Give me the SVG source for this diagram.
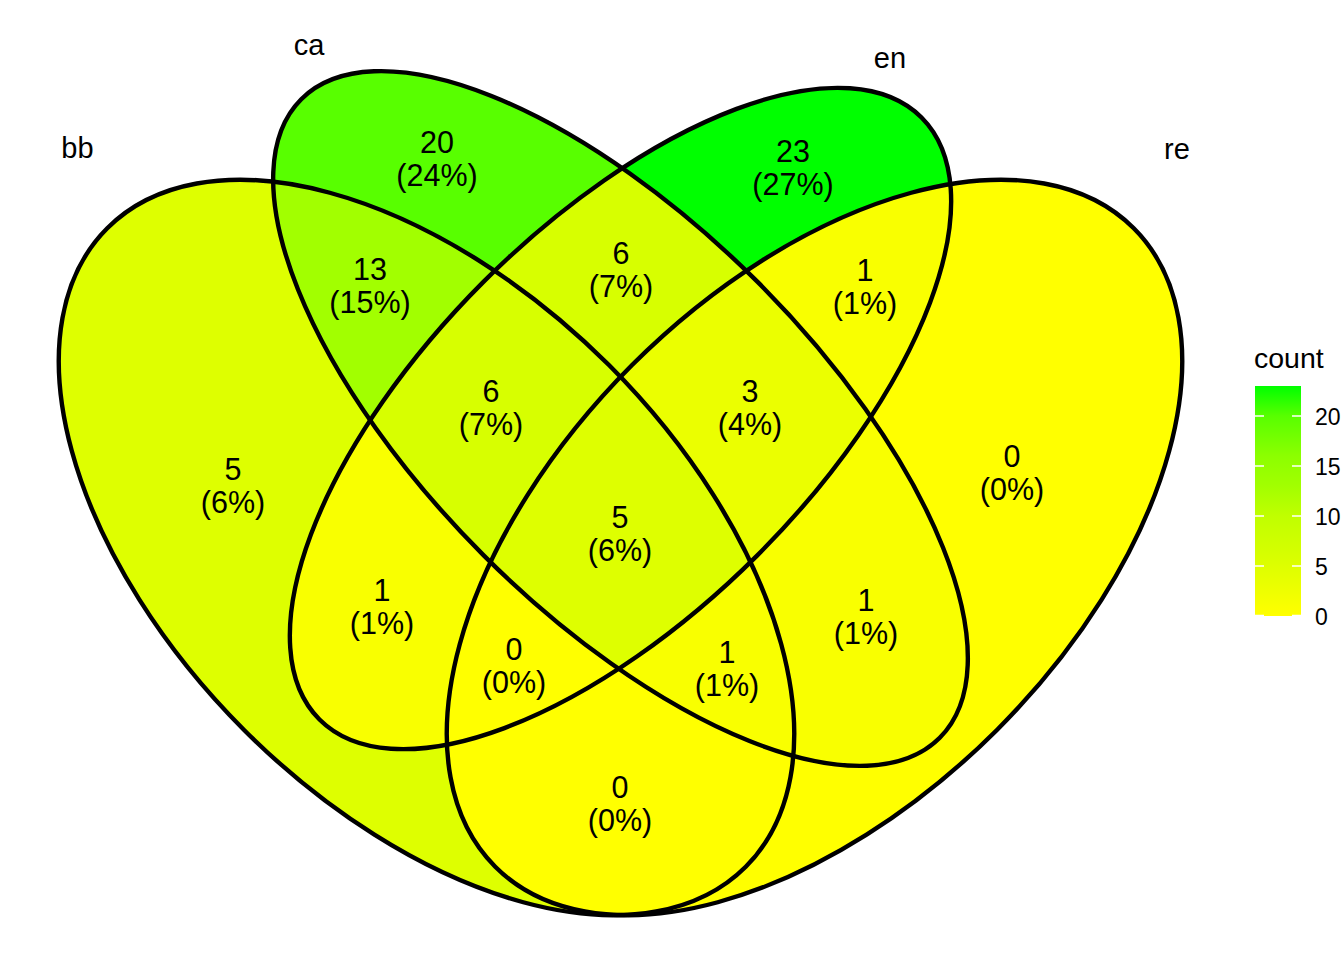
<svg xmlns="http://www.w3.org/2000/svg" xmlns:xlink="http://www.w3.org/1999/xlink" width="1344" height="960" viewBox="0 0 1344 960">
<style>
.lbl{font-family:"Liberation Sans",Arial,sans-serif;font-size:30.5px;fill:#000;text-anchor:middle}
.set{font-family:"Liberation Sans",Arial,sans-serif;font-size:29px;fill:#000;text-anchor:middle}
.leg{font-family:"Liberation Sans",Arial,sans-serif;font-size:23px;fill:#000}
.legt{font-family:"Liberation Sans",Arial,sans-serif;font-size:28.5px;fill:#000}
.edge{fill:none;stroke:#000;stroke-width:4.4}
.tick{stroke:#fff;stroke-width:1.5}
</style>
<defs>
<ellipse id="e-bb" cx="426.5" cy="547.5" rx="451.5" ry="258" transform="rotate(45 426.5 547.5)"/>
<ellipse id="e-ca" cx="620.5" cy="418.5" rx="451.5" ry="193.5" transform="rotate(45 620.5 418.5)"/>
<ellipse id="e-en" cx="620.5" cy="418.5" rx="425.7" ry="193.5" transform="rotate(-45 620.5 418.5)"/>
<ellipse id="e-re" cx="814.5" cy="547.5" rx="451.5" ry="258" transform="rotate(-45 814.5 547.5)"/>
<clipPath id="c-bb"><ellipse cx="426.5" cy="547.5" rx="451.5" ry="258" transform="rotate(45 426.5 547.5)"/></clipPath>
<clipPath id="c-ca"><ellipse cx="620.5" cy="418.5" rx="451.5" ry="193.5" transform="rotate(45 620.5 418.5)"/></clipPath>
<clipPath id="c-en"><ellipse cx="620.5" cy="418.5" rx="425.7" ry="193.5" transform="rotate(-45 620.5 418.5)"/></clipPath>
<clipPath id="c-re"><ellipse cx="814.5" cy="547.5" rx="451.5" ry="258" transform="rotate(-45 814.5 547.5)"/></clipPath>
<linearGradient id="grad" gradientUnits="userSpaceOnUse" x1="0" y1="616" x2="0" y2="386">
<stop offset="0" stop-color="#FFFF00"/>
<stop offset="0.0435" stop-color="#F9FF00"/>
<stop offset="0.1304" stop-color="#EBFF00"/>
<stop offset="0.2174" stop-color="#DEFF00"/>
<stop offset="0.2609" stop-color="#D7FF00"/>
<stop offset="0.4348" stop-color="#C0FF00"/>
<stop offset="0.5652" stop-color="#A2FF00"/>
<stop offset="0.6957" stop-color="#8CFF00"/>
<stop offset="0.8696" stop-color="#58FF00"/>
<stop offset="1" stop-color="#00FF00"/>
</linearGradient>
</defs>
<rect width="1344" height="960" fill="#fff"/>
<g id="fills">
<use href="#e-bb" fill="#DEFF00"/>
<use href="#e-ca" fill="#58FF00"/>
<use href="#e-en" fill="#00FF00"/>
<use href="#e-re" fill="#FFFF00"/>
<g clip-path="url(#c-bb)"><use href="#e-ca" fill="#A2FF00"/></g>
<g clip-path="url(#c-bb)"><use href="#e-en" fill="#F9FF00"/></g>
<g clip-path="url(#c-bb)"><use href="#e-re" fill="#FFFF00"/></g>
<g clip-path="url(#c-ca)"><use href="#e-en" fill="#D7FF00"/></g>
<g clip-path="url(#c-ca)"><use href="#e-re" fill="#F9FF00"/></g>
<g clip-path="url(#c-en)"><use href="#e-re" fill="#F9FF00"/></g>
<g clip-path="url(#c-bb)"><g clip-path="url(#c-ca)"><use href="#e-en" fill="#D7FF00"/></g></g>
<g clip-path="url(#c-bb)"><g clip-path="url(#c-ca)"><use href="#e-re" fill="#F9FF00"/></g></g>
<g clip-path="url(#c-bb)"><g clip-path="url(#c-en)"><use href="#e-re" fill="#FFFF00"/></g></g>
<g clip-path="url(#c-ca)"><g clip-path="url(#c-en)"><use href="#e-re" fill="#EBFF00"/></g></g>
<g clip-path="url(#c-bb)"><g clip-path="url(#c-ca)"><g clip-path="url(#c-en)"><use href="#e-re" fill="#DEFF00"/></g></g></g>
</g>
<g id="connectors">
<use href="#e-bb" class="edge"/>
<use href="#e-ca" class="edge"/>
<use href="#e-en" class="edge"/>
<use href="#e-re" class="edge"/>
</g>
<g id="set-bb"><text class="set" x="77.5" y="158">bb</text></g>
<g id="set-ca"><text class="set" x="309" y="55">ca</text></g>
<g id="set-en"><text class="set" x="890" y="68">en</text></g>
<g id="set-re"><text class="set" x="1177" y="159">re</text></g>
<g id="region-labels">
<g id="r-ca"><text class="lbl" x="437" y="153">20<tspan x="437" dy="33">(24%)</tspan></text></g>
<g id="r-en"><text class="lbl" x="793" y="161.5">23<tspan x="793" dy="33">(27%)</tspan></text></g>
<g id="r-bb-ca"><text class="lbl" x="370" y="279.5">13<tspan x="370" dy="33">(15%)</tspan></text></g>
<g id="r-ca-en"><text class="lbl" x="621" y="263.5">6<tspan x="621" dy="33">(7%)</tspan></text></g>
<g id="r-en-re"><text class="lbl" x="865" y="280.5">1<tspan x="865" dy="33">(1%)</tspan></text></g>
<g id="r-bb-ca-en"><text class="lbl" x="491" y="401.5">6<tspan x="491" dy="33">(7%)</tspan></text></g>
<g id="r-ca-en-re"><text class="lbl" x="750" y="401.5">3<tspan x="750" dy="33">(4%)</tspan></text></g>
<g id="r-bb"><text class="lbl" x="233" y="479.5">5<tspan x="233" dy="33">(6%)</tspan></text></g>
<g id="r-re"><text class="lbl" x="1012" y="466.5">0<tspan x="1012" dy="33">(0%)</tspan></text></g>
<g id="r-all"><text class="lbl" x="620" y="527.5">5<tspan x="620" dy="33">(6%)</tspan></text></g>
<g id="r-bb-en"><text class="lbl" x="382" y="600.5">1<tspan x="382" dy="33">(1%)</tspan></text></g>
<g id="r-ca-re"><text class="lbl" x="866" y="610.5">1<tspan x="866" dy="33">(1%)</tspan></text></g>
<g id="r-bb-en-re"><text class="lbl" x="514" y="659.5">0<tspan x="514" dy="33">(0%)</tspan></text></g>
<g id="r-bb-ca-re"><text class="lbl" x="727" y="662.5">1<tspan x="727" dy="33">(1%)</tspan></text></g>
<g id="r-bb-re"><text class="lbl" x="620" y="797.5">0<tspan x="620" dy="33">(0%)</tspan></text></g>
</g>
<g id="legend">
<text class="legt" x="1254" y="368">count</text>
<rect x="1255" y="386" width="46" height="230" fill="url(#grad)"/>
<g class="tick">
<line x1="1255" y1="416" x2="1264" y2="416"/><line x1="1292" y1="416" x2="1301" y2="416"/>
<line x1="1255" y1="466" x2="1264" y2="466"/><line x1="1292" y1="466" x2="1301" y2="466"/>
<line x1="1255" y1="516" x2="1264" y2="516"/><line x1="1292" y1="516" x2="1301" y2="516"/>
<line x1="1255" y1="566" x2="1264" y2="566"/><line x1="1292" y1="566" x2="1301" y2="566"/>
<line x1="1255" y1="615.5" x2="1264" y2="615.5"/><line x1="1292" y1="615.5" x2="1301" y2="615.5"/>
</g>
<text class="leg" x="1315" y="425">20</text>
<text class="leg" x="1315" y="475">15</text>
<text class="leg" x="1315" y="525">10</text>
<text class="leg" x="1315" y="575">5</text>
<text class="leg" x="1315" y="625">0</text>
</g>
</svg>
